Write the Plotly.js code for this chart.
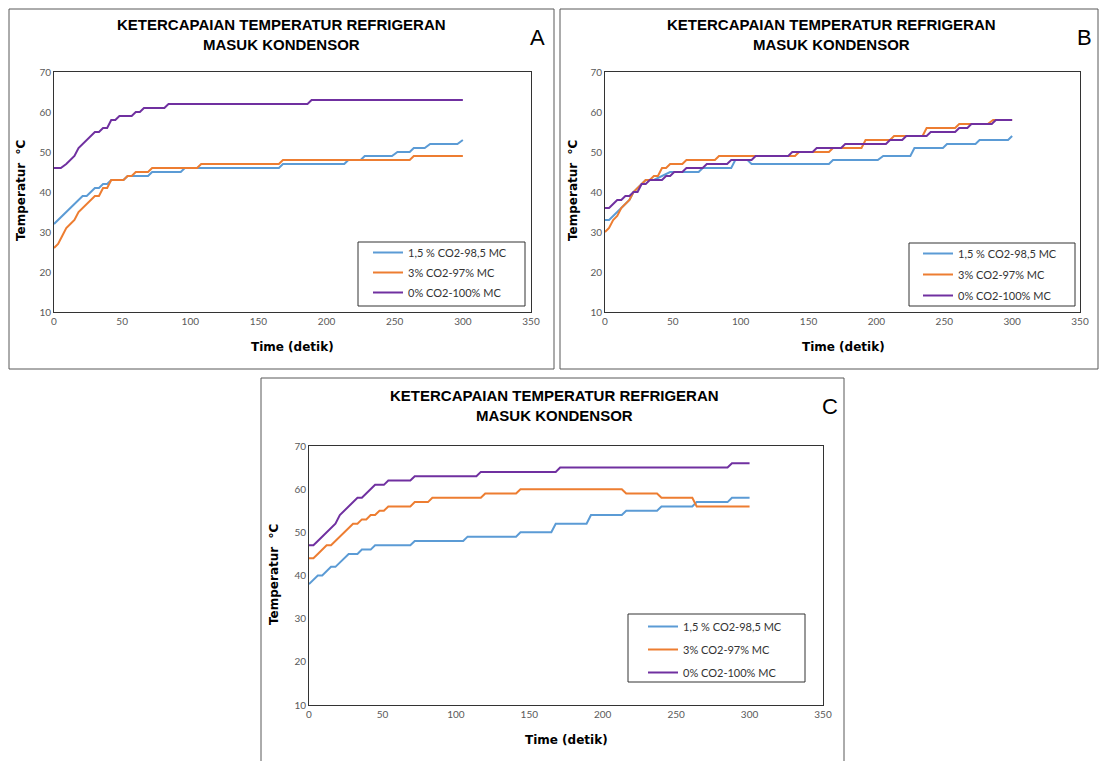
<!DOCTYPE html>
<html>
<head>
<meta charset="utf-8">
<script src="https://cdn.plot.ly/plotly-3.0.1.min.js"></script>
<style>
html,body{margin:0;padding:0;background:#ffffff;}
#chart{width:1101px;height:761px;}
</style>
</head>
<body>
<div id="chart"></div>
<script>
// ---------- text ----------
const seriesNames = ['1,5 % CO2-98,5 MC', '3% CO2-97% MC', '0% CO2-100% MC'];
const seriesColors = ['#5B9BD5', '#ED7D31', '#7030A0'];
const chartTitle = 'KETERCAPAIAN TEMPERATUR REFRIGERAN<br>MASUK KONDENSOR';
const panelLetters = ['A', 'B', 'C'];
const xTitleText = 'Time (detik)';
const yTitleText = 'Temperatur  °C';
const xTicks = [0, 50, 100, 150, 200, 250, 300, 350];
const yTicks = [10, 20, 30, 40, 50, 60, 70];

// ---------- panel A ----------
const aBlueT = [0,3,6,9,12,15,18,21,24,27,30,33,36,39,42,51,54,69,72,93,96,165,168,213,216,225,228,248,252,261,264,272,276,296,300];
const aBlueV = [32,33,34,35,36,37,38,39,39,40,41,41,42,42,43,43,44,44,45,45,46,46,47,47,48,48,49,49,50,50,51,51,52,52,53];
const aOrangeT = [0,3,6,9,12,15,18,21,24,27,30,33,36,39,42,51,54,57,60,69,72,105,108,165,168,261,264,300];
const aOrangeV = [26,27,29,31,32,33,35,36,37,38,39,39,41,41,43,43,44,44,45,45,46,46,47,47,48,48,49,49];
const aPurpleT = [0,5,9,12,15,18,21,24,27,30,33,36,39,42,45,48,57,60,63,66,81,84,186,189,300];
const aPurpleV = [46,46,47,48,49,51,52,53,54,55,55,56,56,58,58,59,59,60,60,61,61,62,62,63,63];

// ---------- panel B ----------
const bBlueT = [0,3,6,9,12,15,18,21,24,27,30,36,42,48,69,72,93,96,105,108,165,168,201,205,225,228,249,252,273,276,297,300];
const bBlueV = [33,33,34,35,36,37,38,40,41,42,43,43,44,45,45,46,46,48,48,47,47,48,48,49,49,51,51,52,52,53,53,54];
const bOrangeT = [0,3,6,9,12,15,18,21,24,27,30,33,36,39,42,45,48,57,60,81,84,140,143,165,168,189,192,210,213,234,237,258,261,282,286,300];
const bOrangeV = [30,31,33,34,36,37,38,40,41,42,43,43,44,44,46,46,47,47,48,48,49,49,50,50,51,51,53,53,54,54,56,56,57,57,58,58];
const bPurpleT = [0,3,6,9,12,15,18,21,24,27,30,33,42,45,48,51,57,60,72,75,90,93,108,111,135,138,153,156,174,177,207,210,219,222,237,240,258,261,267,270,285,288,300];
const bPurpleV = [36,36,37,38,38,39,39,40,40,42,42,43,43,44,44,45,45,46,46,47,47,48,48,49,49,50,50,51,51,52,52,53,53,54,54,55,55,56,56,57,57,58,58];

// ---------- panel C ----------
const cBlueT = [0,3,6,9,12,15,18,21,24,27,33,36,42,45,69,72,105,108,141,144,165,168,189,192,213,216,237,240,261,264,285,288,300];
const cBlueV = [38,39,40,40,41,42,42,43,44,45,45,46,46,47,47,48,48,49,49,50,50,52,52,54,54,55,55,56,56,57,57,58,58];
const cOrangeT = [0,3,6,9,12,15,18,21,24,27,30,33,36,39,42,45,48,51,54,69,72,81,84,117,120,141,144,213,216,237,240,261,264,300];
const cOrangeV = [44,44,45,46,47,47,48,49,50,51,52,52,53,53,54,54,55,55,56,56,57,57,58,58,59,59,60,60,59,59,58,58,56,56];
const cPurpleT = [0,3,6,9,12,15,18,21,24,27,30,33,36,39,42,45,51,54,69,72,114,117,168,171,285,288,300];
const cPurpleV = [47,47,48,49,50,51,52,54,55,56,57,58,58,59,60,61,61,62,62,63,63,64,64,65,65,66,66];

// ---------- layout geometry (pixels on the 1101x761 page) ----------
const W = 1101, H = 761;
const px = x => x / W;
const py = y => 1 - y / H;

const panels = [
  { letter: panelLetters[0], plot: [54, 531, 72, 312], frame: [9, 554, 9, 369],
    legBox: [358, 525, 242, 306], legXY: [368, 238], gap: 1,
    titleXY: [281, 34], letterXY: [537, 37], yTitleXY: [21, 190], xTitleXY: [292, 347],
    data: [[aBlueT, aBlueV], [aOrangeT, aOrangeV], [aPurpleT, aPurpleV]] },
  { letter: panelLetters[1], plot: [605, 1080, 72, 312], frame: [560, 1098, 9, 369],
    legBox: [909, 1075, 243, 306], legXY: [918, 239], gap: 2,
    titleXY: [831, 34], letterXY: [1084, 37], yTitleXY: [573, 190], xTitleXY: [843, 347],
    data: [[bBlueT, bBlueV], [bOrangeT, bOrangeV], [bPurpleT, bPurpleV]] },
  { letter: panelLetters[2], plot: [309, 823, 446, 705], frame: [261, 844, 378, 770],
    legBox: [628, 805, 614, 682], legXY: [643, 612], gap: 4,
    titleXY: [554, 405], letterXY: [830, 406], yTitleXY: [274, 574], xTitleXY: [566, 740],
    data: [[cBlueT, cBlueV], [cOrangeT, cOrangeV], [cPurpleT, cPurpleV]] }
];

const tickFont = { family: 'Lato, "Open Sans", sans-serif', size: 10, color: '#595959' };
const axisTitleFont = { family: '"DejaVu Sans", sans-serif', size: 12, color: '#000000' };
const titleFont = { family: '"Liberation Sans", Arial, sans-serif', size: 15, color: '#000000' };
const legendFont = { family: 'Lato, "Open Sans", sans-serif', size: 11, color: '#333333' };

const traces = [];
const layout = {
  width: W, height: H,
  margin: { l: 0, r: 0, t: 0, b: 0, pad: 0 },
  paper_bgcolor: '#ffffff', plot_bgcolor: '#ffffff',
  showlegend: true,
  shapes: [], annotations: []
};

panels.forEach((p, i) => {
  const n = i + 1;
  const xa = 'xaxis' + (n === 1 ? '' : n);
  const ya = 'yaxis' + (n === 1 ? '' : n);
  const xr = 'x' + (n === 1 ? '' : n);
  const yr = 'y' + (n === 1 ? '' : n);
  const legName = 'legend' + (n === 1 ? '' : n);

  layout[xa] = {
    domain: [px(p.plot[0]), px(p.plot[1])], anchor: yr,
    range: [0, 350], tickvals: xTicks, ticktext: xTicks.map(String),
    showgrid: false, zeroline: false, ticks: '',
    showline: true, mirror: true, linecolor: '#333333', linewidth: 1,
    tickfont: tickFont, fixedrange: true
  };
  layout[ya] = {
    domain: [py(p.plot[3]), py(p.plot[2])], anchor: xr,
    range: [10, 70], tickvals: yTicks, ticktext: yTicks.map(String),
    showgrid: false, zeroline: false, ticks: '',
    showline: true, mirror: true, linecolor: '#333333', linewidth: 1,
    tickfont: tickFont, fixedrange: true
  };
  layout[legName] = {
    x: px(p.legXY[0]), y: py(p.legXY[1]), xanchor: 'left', yanchor: 'top',
    xref: 'paper', yref: 'paper',
    bgcolor: 'rgba(0,0,0,0)', borderwidth: 0,
    font: legendFont, tracegroupgap: p.gap, itemwidth: 30,
    orientation: 'v', traceorder: 'grouped'
  };

  p.data.forEach((d, k) => {
    traces.push({
      type: 'scatter', mode: 'lines',
      x: d[0], y: d[1],
      xaxis: xr, yaxis: yr,
      name: seriesNames[k],
      legend: legName,
      legendgroup: 'p' + n + 's' + k,
      line: { color: seriesColors[k], width: 2 },
      hoverinfo: 'skip'
    });
  });

  // outer chart frame
  layout.shapes.push({
    type: 'rect', xref: 'paper', yref: 'paper', layer: 'below',
    x0: px(p.frame[0]), x1: px(p.frame[1]), y0: py(p.frame[3]), y1: py(p.frame[2]),
    line: { color: '#595959', width: 1 }, fillcolor: 'rgba(0,0,0,0)'
  });
  // legend box
  layout.shapes.push({
    type: 'rect', xref: 'paper', yref: 'paper', layer: 'above',
    x0: px(p.legBox[0]), x1: px(p.legBox[1]), y0: py(p.legBox[3]), y1: py(p.legBox[2]),
    line: { color: '#333333', width: 1 }, fillcolor: 'rgba(255,255,255,0)'
  });

  layout.annotations.push({
    xref: 'paper', yref: 'paper', x: px(p.titleXY[0]), y: py(p.titleXY[1]),
    xanchor: 'center', yanchor: 'middle', showarrow: false,
    text: '<b>' + chartTitle + '</b>', font: titleFont, align: 'center'
  });
  layout.annotations.push({
    xref: 'paper', yref: 'paper', x: px(p.letterXY[0]), y: py(p.letterXY[1]),
    xanchor: 'center', yanchor: 'middle', showarrow: false,
    text: p.letter, font: { family: '"Liberation Sans", Arial, sans-serif', size: 22, color: '#000000' }
  });
  layout.annotations.push({
    xref: 'paper', yref: 'paper', x: px(p.yTitleXY[0]), y: py(p.yTitleXY[1]),
    xanchor: 'center', yanchor: 'middle', showarrow: false, textangle: -90,
    text: '<b>' + yTitleText + '</b>', font: axisTitleFont
  });
  layout.annotations.push({
    xref: 'paper', yref: 'paper', x: px(p.xTitleXY[0]), y: py(p.xTitleXY[1]),
    xanchor: 'center', yanchor: 'middle', showarrow: false,
    text: '<b>' + xTitleText + '</b>', font: axisTitleFont
  });
});

Plotly.newPlot('chart', traces, layout, { displayModeBar: false, staticPlot: true });
</script>
</body>
</html>
